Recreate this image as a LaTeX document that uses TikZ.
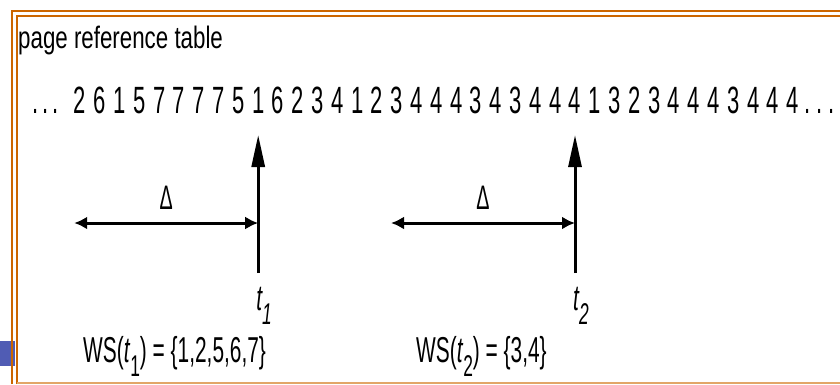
\documentclass[tikz,border=0pt]{standalone}
\usepackage{fontspec}
\setmainfont{Liberation Sans}
\newfontfamily\figfont[FakeStretch=0.58]{Liberation Sans}
\newfontfamily\titlefont[FakeStretch=0.72]{Liberation Sans}
\usetikzlibrary{arrows.meta,positioning,calc}
\definecolor{frameorange}{RGB}{204,102,0}
\definecolor{framelight}{RGB}{226,166,104}
\definecolor{slideblue}{RGB}{80,92,180}
\newcommand{\lowsub}[1]{\raisebox{-14pt}{\fontsize{30}{30}\selectfont #1}}

\begin{document}
\begin{tikzpicture}[x=1pt,y=-1pt,
    seq/.style={font=\figfont\fontsize{38}{38}\selectfont, anchor=base, inner sep=0pt},
    lbl/.style={font=\figfont\fontsize{36}{36}\selectfont, anchor=base west, inner sep=0pt},
    dlt/.style={font=\figfont\fontsize{34}{34}\selectfont, inner sep=0pt},
    timeline/.style={line width=3pt, -{Triangle[length=32pt,width=13pt]}},
    window/.style={line width=3pt, {Latex[length=13pt,width=13pt]}-{Latex[length=13pt,width=13pt]}}]
    \useasboundingbox (0,0) rectangle (840,384);
    % slide frame
    \fill[slideblue] (0,341) rectangle (15,366);
    \draw[frameorange, line width=2pt] (12,384) -- (12,11) -- (840,11);
    \draw[frameorange, line width=2pt] (17,384) -- (17,16) -- (840,16);
    \draw[framelight, line width=1.5pt] (17,383) -- (840,383);
    \node[font=\titlefont\fontsize{31}{31}\selectfont, anchor=base west, inner sep=0pt] (title) at (18,48) {page reference table};
    % reference string
    \foreach \x in {36,46,56} \node[seq] (ldot\x) at (\x,113) {.};
    \foreach \p [count=\i from 0] in {2,6,1,5,7,7,7,7,5,1,6,2,3,4,1,2,3,4,4,4,3,4,3,4,4,4,1,3,2,3,4,4,4,3,4,4,4}
        \node[seq] (d\i) at (80+19.8*\i,113) {\p};
    \foreach \x in {808,820,832} \node[seq] (rdot\x) at (\x,113) {.};
    % window at t1
    \coordinate (t1) at (d9 |- 0,273);
    \coordinate (t1top) at (d9 |- 0,135);
    \coordinate (t1mid) at (d9 |- 0,223);
    \coordinate (w1) at ($(t1mid)+(-184,0)$);
    \draw[timeline] (t1) -- (t1top);
    \draw[window] (w1) -- (t1mid);
    \node[dlt] (delta1) at ($(w1)!0.5!(t1mid)+(0,-25)$) {Δ};
    \node[lbl] (t1lbl) at ($(t1)+(-2,37)$) {\itshape t\lowsub{1}};
    % window at t2
    \coordinate (t2) at (d25 |- 0,273);
    \coordinate (t2top) at (d25 |- 0,135);
    \coordinate (t2mid) at (d25 |- 0,223);
    \coordinate (w2) at ($(t2mid)+(-184,0)$);
    \draw[timeline] (t2) -- (t2top);
    \draw[window] (w2) -- (t2mid);
    \node[dlt] (delta2) at ($(w2)!0.5!(t2mid)+(0,-25)$) {Δ};
    \node[lbl] (t2lbl) at ($(t2)+(-2,37)$) {\itshape t\lowsub{2}};
    % working sets
    \node[lbl] (ws1) at (83,362) {WS(\textit{t}\lowsub{1}) = \{1,2,5,6,7\}};
    \node[lbl] (ws2) at (416,362) {WS(\textit{t}\lowsub{2}) = \{3,4\}};
\end{tikzpicture}
\end{document}
